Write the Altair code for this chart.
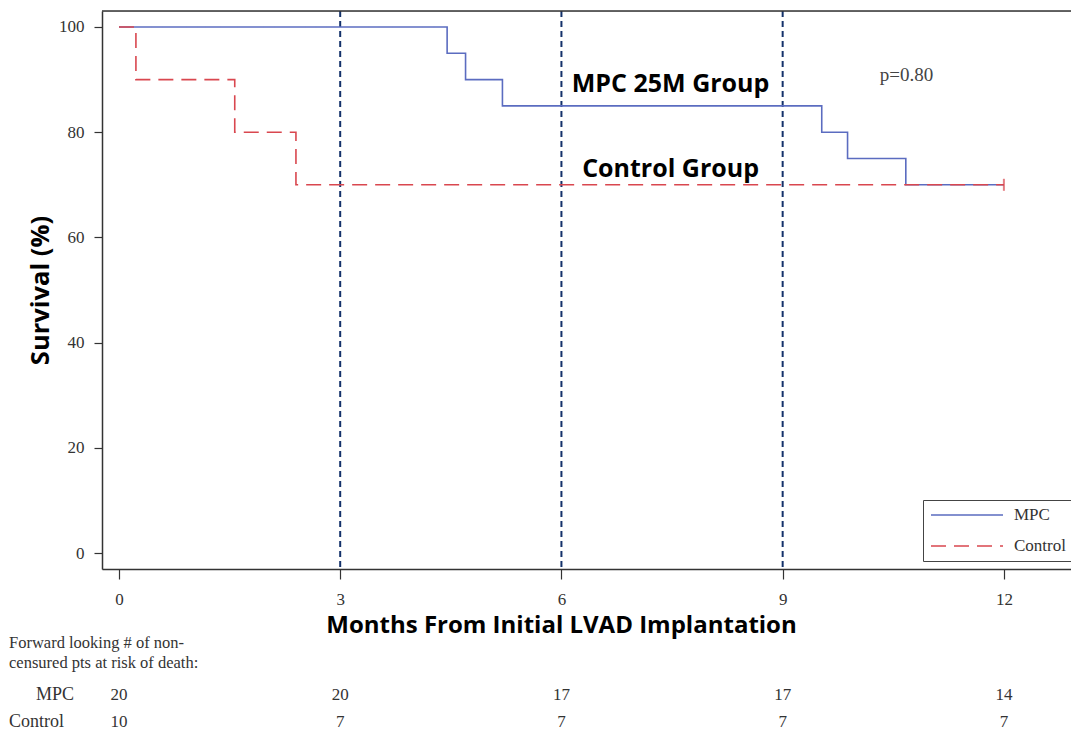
import altair as alt
import pandas as pd

# ---- data ----
groups = ["MPC", "Control"]
mpc_months = [0, 4.45, 4.7, 5.2, 9.53, 9.88, 10.67, 12]
mpc_survival = [100, 95, 90, 85, 80, 75, 70, 70]
control_months = [0, 0.23, 1.57, 2.4, 12]
control_survival = [100, 90, 80, 70, 70]
censor_months = [12]
censor_survival = [70]
ref_months = [3, 6, 9]
x_ticks = [0, 3, 6, 9, 12]
y_ticks = [0, 20, 40, 60, 80, 100]
risk_months = [0, 3, 6, 9, 12]
risk_mpc = [20, 20, 17, 17, 14]
risk_control = [10, 7, 7, 7, 7]
annotation_text = ["MPC 25M Group", "Control Group"]
annotation_months = [7.48, 7.48]
annotation_survival = [87.6, 71.5]
p_text = ["p=0.80"]
p_months = [10.68]
p_survival = [90.8]
table_header = ["Forward looking # of non-", "censured pts at risk of death:"]

BLUE = "#5b6cc0"
RED = "#d9474f"
NAVY = "#14326b"
W, H = 969, 558
SANS = "Open Sans"
SERIF = "Liberation Serif"

curves = pd.concat([
    pd.DataFrame({"month": mpc_months, "survival": mpc_survival, "group": "MPC"}),
    pd.DataFrame({"month": control_months, "survival": control_survival, "group": "Control"}),
], ignore_index=True)

xs = alt.Scale(domain=[-0.23, 12.91], nice=False, zero=False)
ys = alt.Scale(domain=[-3.04, 103.04], nice=False, zero=False)

xaxis = alt.Axis(values=x_ticks, title="Months From Initial LVAD Implantation", grid=False,
                 tickSize=10, tickColor="#333", tickWidth=1.2, domainColor="#333", domainWidth=1.5,
                 labelFont=SERIF, labelFontSize=17, labelColor="#333", labelPadding=12,
                 labelFlush=False,
                 titleFont=SANS, titleFontSize=24, titleFontWeight="bold", titleColor="black",
                 titleX=459, titleY=63, titleAlign="center", titleBaseline="alphabetic")
yaxis = alt.Axis(values=y_ticks, title="Survival (%)", grid=False,
                 tickSize=8, tickColor="#333", tickWidth=1.2, domainColor="#333", domainWidth=1.5,
                 labelFont=SERIF, labelFontSize=17, labelColor="#333", labelPadding=10,
                 labelFlush=False,
                 titleFont=SANS, titleFontSize=25.5, titleFontWeight="bold", titleColor="black",
                 titleX=-62, titleY=279, titleAngle=-90, titleAlign="center", titleBaseline="middle")

X = alt.X("month:Q", scale=xs, axis=xaxis)
Y = alt.Y("survival:Q", scale=ys, axis=yaxis)

legend = alt.Legend(title=None, orient="none", legendX=821, legendY=489, direction="vertical",
                    symbolType="stroke", symbolSize=5184, symbolStrokeWidth=1.6, clipHeight=16,
                    rowPadding=14, labelFont=SERIF, labelFontSize=17, labelColor="#333",
                    labelOffset=10, padding=7, strokeColor="#444", fillColor="white")

refs = alt.Chart(pd.DataFrame({"month": ref_months})).mark_rule(
    color=NAVY, strokeWidth=2, strokeDash=[6, 4]).encode(x=X)

lines = alt.Chart(curves).mark_line(interpolate="step-after", strokeWidth=1.6).encode(
    x=X, y=Y,
    color=alt.Color("group:N", scale=alt.Scale(domain=groups, range=[BLUE, RED]), legend=legend),
    strokeDash=alt.StrokeDash("group:N", scale=alt.Scale(domain=groups, range=[[1, 0], [15, 8]]),
                              legend=legend),
    order=alt.Order("month:Q"),
)

censor = alt.Chart(pd.DataFrame({"month": censor_months, "survival": censor_survival})).mark_tick(
    orient="vertical", color=RED, size=12, thickness=2).encode(x=X, y=Y)

annot = alt.Chart(pd.DataFrame({"month": annotation_months, "survival": annotation_survival,
                                "t": annotation_text})).mark_text(
    font=SANS, fontWeight="bold", fontSize=25, color="black", align="center",
    baseline="alphabetic").encode(x=X, y=Y, text="t:N")

ptext = alt.Chart(pd.DataFrame({"month": p_months, "survival": p_survival, "t": p_text})).mark_text(
    font=SERIF, fontSize=19, color="#444", align="center", baseline="middle").encode(
    x=X, y=Y, text="t:N")

def plain_text(label, x_px, y_px, size, align="left"):
    return alt.Chart(pd.DataFrame({"t": [label]})).mark_text(
        font=SERIF, fontSize=size, color="#333", align=align, baseline="alphabetic").encode(
        x=alt.value(x_px), y=alt.value(y_px), text="t:N")

header1 = plain_text(table_header[0], -93, 637, 16.5)
header2 = plain_text(table_header[1], -93, 657, 16.5)
row_mpc_label = plain_text(groups[0], -66, 689, 18)
row_ctl_label = plain_text(groups[1], -93, 716, 18)

risk1 = alt.Chart(pd.DataFrame({"month": risk_months, "n": risk_mpc})).mark_text(
    font=SERIF, fontSize=17, color="#333", align="center", baseline="alphabetic").encode(
    x=X, y=alt.value(689), text="n:Q")
risk2 = alt.Chart(pd.DataFrame({"month": risk_months, "n": risk_control})).mark_text(
    font=SERIF, fontSize=17, color="#333", align="center", baseline="alphabetic").encode(
    x=X, y=alt.value(716), text="n:Q")

top_border = alt.Chart(pd.DataFrame({"month": [0]})).mark_rule(color="#333", strokeWidth=1.5).encode(
    x=alt.value(0), x2=alt.value(W), y=alt.value(0))

chart = alt.layer(
    refs, lines, censor, annot, ptext, header1, header2,
    row_mpc_label, row_ctl_label, risk1, risk2, top_border
).properties(
    width=W, height=H,
    autosize=alt.AutoSizeParams(type="none"),
    padding={"left": 94, "top": 3, "right": 0, "bottom": 164},
).configure_view(stroke=None).configure(background="white")

chart.save("out.html", embed_options={"renderer": "svg", "actions": False})
